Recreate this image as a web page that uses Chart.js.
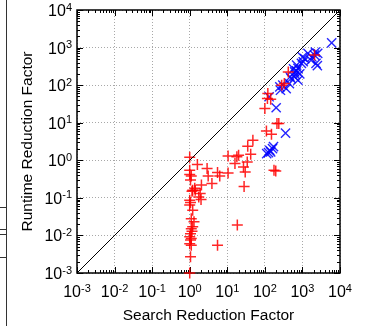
<!DOCTYPE html>
<html>
<head>
<meta charset="utf-8">
<script src="https://cdn.jsdelivr.net/npm/chart.js@4.4.0/dist/chart.umd.min.js"></script>
<style>
    html, body { margin: 0; padding: 0; background: #fff; }
    #wrap { width: 369px; height: 326px; }
</style>
</head>
<body>
<div id="wrap"><canvas id="grafica" width="369" height="326"></canvas></div>
<script>
// Datos
const exponentes = [-3, -2, -1, 0, 1, 2, 3, 4];
const decadas = exponentes.map(e => Math.pow(10, e));

const rojoX = [1.0, 1.6, 2.9, 1.0, 1.1, 1.0, 1.05, 3.1, 5.5, 6.3, 10.5, 2.05, 1.36, 1.15, 1.0, 1.74,
    1.05, 1.2, 1.1, 1.3, 1.2, 1.1, 1.15, 1.05, 1.0, 1.1, 1.05, 1.0, 1.1, 1.05, 1.0, 5.5, 18.5,
    10.5, 20, 18, 35, 48, 42, 16, 27, 30, 34, 28, 175, 195, 110, 150, 210, 235, 100, 120, 143,
    117, 280, 330, 420, 2100, 1.2, 1.4, 3.9, 2.0, 1.9, 1.0];
const rojoY = [1.2, 0.77, 0.6, 0.54, 0.38, 0.42, 0.3, 0.38, 0.47, 0.38, 1.3, 0.22, 0.18, 0.15, 0.086, 0.105,
    0.075, 0.047, 0.028, 0.023, 0.017, 0.015, 0.013, 0.011, 0.0092, 0.0083, 0.0075, 0.006, 0.0055, 0.0027, 0.001, 0.0055, 0.019,
    0.46, 1.36, 1.25, 2.35, 3.4, 1.45, 0.82, 0.66, 0.49, 0.9, 0.2, 0.54, 0.52, 6.0, 4.9, 9.5, 9.5, 24, 60, 42,
    44, 100, 110, 225, 630, 0.16, 0.16, 0.24, 0.09, 0.13, 0.065];

const azulX = [6000, 2100, 2300, 1700, 1150, 940, 760, 620, 620, 500, 450, 370, 1400, 2550, 850, 760,
    1050, 2500, 1800, 260, 300, 250, 130, 200, 355, 112, 135, 160, 143, 170, 125, 700, 580, 650,
    2200, 1000, 700, 470];
const azulY = [1330, 630, 380, 460, 510, 380, 280, 225, 165, 150, 110, 81, 700, 700, 200, 135,
    420, 330, 560, 73, 100, 90, 49, 25, 5.3, 1.5, 1.85, 2.05, 1.67, 2.3, 1.6, 340, 270, 190,
    760, 560, 240, 165];

const diagonal = [1e-3, 1e4];

const tituloX = 'Search Reduction Factor';
const tituloY = 'Runtime Reduction Factor';

const fuente = '"Liberation Sans", Arial, sans-serif';

function dibujarPotencia(ctx, exp, x, yBase, yExp, alineado) {
    ctx.font = '16px ' + fuente;
    const wBase = ctx.measureText('10').width;
    ctx.font = '11px ' + fuente;
    const txtExp = String(exp);
    const wExp = ctx.measureText(txtExp).width;
    let inicio;
    if (alineado === 'centro') inicio = x - (wBase + wExp) / 2;
    else inicio = x - (wBase + wExp);
    ctx.textAlign = 'left';
    ctx.textBaseline = 'alphabetic';
    ctx.font = '16px ' + fuente;
    ctx.fillText('10', inicio, yBase);
    ctx.font = '11px ' + fuente;
    ctx.fillText(txtExp, inicio + wBase, yExp);
}

const marcoPlugin = {
    id: 'marco',
    beforeDatasetsDraw(chart) {
        const { ctx, chartArea: a, scales: { x, y } } = chart;
        ctx.save();
        ctx.strokeStyle = '#000';
        ctx.lineWidth = 1;
        ctx.beginPath();
        exponentes.forEach(e => {
            for (let k = 1; k <= 9; k++) {
                const v = k * Math.pow(10, e);
                if (v > 1e4) break;
                const largo = k === 1 ? 6 : 3;
                const px = Math.round(x.getPixelForValue(v)) + 0.5;
                const py = Math.round(y.getPixelForValue(v)) + 0.5;
                ctx.moveTo(px, a.bottom); ctx.lineTo(px, a.bottom - largo);
                ctx.moveTo(px, a.top); ctx.lineTo(px, a.top + largo);
                ctx.moveTo(a.left, py); ctx.lineTo(a.left + largo, py);
                ctx.moveTo(a.right, py); ctx.lineTo(a.right - largo, py);
            }
        });
        ctx.stroke();
        ctx.lineWidth = 1.5;
        ctx.strokeRect(a.left, a.top, a.right - a.left, a.bottom - a.top);
        ctx.restore();
    },
    afterDraw(chart) {
        const { ctx, chartArea: a, scales: { x, y } } = chart;
        ctx.save();
        ctx.fillStyle = '#000';
        exponentes.forEach((e, i) => {
            const px = x.getPixelForValue(decadas[i]);
            dibujarPotencia(ctx, e, px, a.bottom + 24, a.bottom + 18.5, 'centro');
            const py = y.getPixelForValue(decadas[i]);
            dibujarPotencia(ctx, e, a.left - 5, py + 6, py + 0.5, 'derecha');
        });
        ctx.font = '15.5px ' + fuente;
        ctx.textAlign = 'center';
        ctx.textBaseline = 'alphabetic';
        ctx.fillText(tituloX, (a.left + a.right) / 2, 320);
        ctx.translate(32, (a.top + a.bottom) / 2);
        ctx.rotate(-Math.PI / 2);
        ctx.fillText(tituloY, 0, 0);
        ctx.restore();

        // restos del recuadro vecino en el borde izquierdo
        ctx.save();
        ctx.strokeStyle = '#333';
        ctx.lineWidth = 1;
        ctx.beginPath();
        ctx.moveTo(6.5, 0); ctx.lineTo(6.5, 326);
        [207, 229, 234, 257].forEach(h => {
            ctx.moveTo(0, h + 0.5); ctx.lineTo(6.5, h + 0.5);
        });
        ctx.stroke();
        ctx.restore();
    }
};

const ctx = document.getElementById('grafica').getContext('2d');
const grafica = new Chart(ctx, {
    type: 'scatter',
    data: {
        datasets: [
            {
                type: 'line',
                data: diagonal.map(v => ({ x: v, y: v })),
                borderColor: '#000',
                borderWidth: 1,
                pointRadius: 0,
                fill: false
            },
            {
                data: rojoX.map((v, i) => ({ x: v, y: rojoY[i] })),
                pointStyle: 'cross',
                pointRadius: 5.5,
                borderWidth: 1.5,
                borderColor: 'rgba(255, 0, 0, 0.85)',
                backgroundColor: 'rgba(255, 0, 0, 0.85)',
                clip: false
            },
            {
                data: azulX.map((v, i) => ({ x: v, y: azulY[i] })),
                pointStyle: 'crossRot',
                pointRadius: 6.5,
                borderWidth: 1.4,
                borderColor: 'rgba(0, 0, 255, 0.85)',
                backgroundColor: 'rgba(0, 0, 255, 0.85)',
                clip: false
            }
        ]
    },
    options: {
        responsive: false,
        animation: false,
        events: [],
        layout: {
            autoPadding: false,
            padding: { left: 77, right: 29, top: 10, bottom: 53 }
        },
        plugins: {
            legend: { display: false },
            tooltip: { enabled: false }
        },
        scales: {
            x: {
                type: 'logarithmic',
                min: 1e-3,
                max: 1e4,
                afterBuildTicks: s => { s.ticks = decadas.map(v => ({ value: v })); },
                ticks: { display: false },
                grid: { color: '#a8a8a8', lineWidth: 1, drawTicks: false },
                border: { display: false, dash: [1, 2] }
            },
            y: {
                type: 'logarithmic',
                min: 1e-3,
                max: 1e4,
                afterBuildTicks: s => { s.ticks = decadas.map(v => ({ value: v })); },
                ticks: { display: false },
                grid: { color: '#a8a8a8', lineWidth: 1, drawTicks: false },
                border: { display: false, dash: [1, 2] }
            }
        }
    },
    plugins: [marcoPlugin]
});
</script>
</body>
</html>
